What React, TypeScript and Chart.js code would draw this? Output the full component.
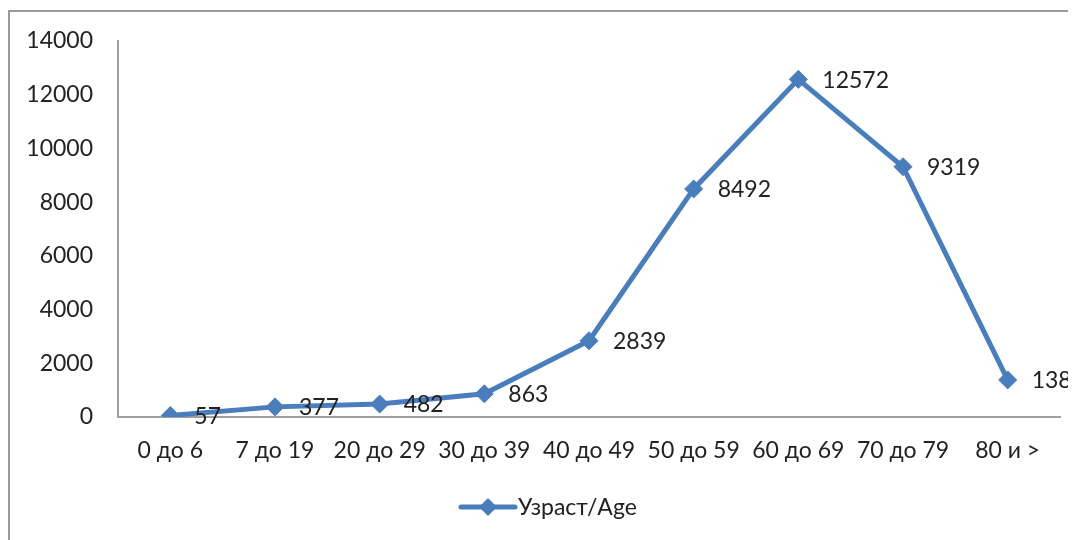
import React, { useEffect, useRef } from "react";
import { Chart, registerables } from "chart.js";

Chart.register(...registerables);

const categories: string[] = ["0 до 6", "7 до 19", "20 до 29", "30 до 39", "40 до 49", "50 до 59", "60 до 69", "70 до 79", "80 и >"];
const values: number[] = [57, 377, 482, 863, 2839, 8492, 12572, 9319, 1381];
const seriesLabel = "Узраст/Age";
const yMin = 0;
const yMax = 14000;
const yStep = 2000;

const FONT = "Lato, 'Open Sans', sans-serif";
const FSIZE = 23;
const BLUE = "#4a7dbb";
const TEXT = "#222222";

const framePlugin = {
  id: "frame",
  beforeDraw(chart: any) {
    const ctx = chart.ctx;
    ctx.save();
    ctx.fillStyle = "#ffffff";
    ctx.fillRect(0, 0, chart.width, chart.height);
    ctx.strokeStyle = "#9a9a9a";
    ctx.lineWidth = 2;
    ctx.beginPath();
    ctx.moveTo(1, chart.height + 5);
    ctx.lineTo(1, 3);
    ctx.lineTo(chart.width + 5, 3);
    ctx.stroke();
    ctx.restore();
  },
};

const labelsPlugin = {
  id: "valueLabels",
  afterDatasetsDraw(chart: any) {
    const ctx = chart.ctx;
    const meta = chart.getDatasetMeta(0);
    ctx.save();
    ctx.font = `${FSIZE}px ${FONT}`;
    ctx.fillStyle = TEXT;
    ctx.textAlign = "left";
    ctx.textBaseline = "middle";
    meta.data.forEach((pt: any, i: number) => {
      ctx.fillText(String(chart.data.datasets[0].data[i]), pt.x + 24, pt.y + 1);
    });
    ctx.restore();
  },
};

const legendPlugin = {
  id: "customLegend",
  afterDraw(chart: any) {
    const ctx = chart.ctx;
    const cy = 499;
    const x0 = 453;
    const x1 = 507;
    const cx = (x0 + x1) / 2;
    ctx.save();
    ctx.strokeStyle = BLUE;
    ctx.lineWidth = 5;
    ctx.lineCap = "round";
    ctx.beginPath();
    ctx.moveTo(x0, cy);
    ctx.lineTo(x1, cy);
    ctx.stroke();
    ctx.fillStyle = BLUE;
    ctx.beginPath();
    const r = 9;
    ctx.moveTo(cx, cy - r);
    ctx.lineTo(cx + r, cy);
    ctx.lineTo(cx, cy + r);
    ctx.lineTo(cx - r, cy);
    ctx.closePath();
    ctx.fill();
    ctx.font = `${FSIZE}px ${FONT}`;
    ctx.fillStyle = TEXT;
    ctx.textAlign = "left";
    ctx.textBaseline = "middle";
    ctx.fillText(seriesLabel, x1 + 3, cy + 1);
    ctx.restore();
  },
};

export default function App() {
  const ref = useRef<HTMLCanvasElement | null>(null);

  useEffect(() => {
    if (!ref.current) return;
    const chart = new Chart(ref.current, {
      type: "line",
      data: {
        labels: categories,
        datasets: [
          {
            label: seriesLabel,
            data: values,
            borderColor: BLUE,
            backgroundColor: BLUE,
            borderWidth: 5,
            pointStyle: "rectRot",
            pointRadius: 9,
            pointBorderWidth: 1,
            pointBackgroundColor: BLUE,
            pointBorderColor: BLUE,
            tension: 0,
          },
        ],
      },
      options: {
        animation: false,
        responsive: false,
        maintainAspectRatio: false,
        layout: { padding: { left: 0, right: 16, top: 33, bottom: 0 } },
        plugins: {
          legend: { display: false },
          tooltip: { enabled: false },
        },
        scales: {
          x: {
            offset: true,
            grid: { display: true, color: "rgba(0,0,0,0)", drawTicks: false },
            border: { display: true, color: "#a0a0a0", width: 2 },
            ticks: { color: TEXT, font: { family: FONT, size: FSIZE }, padding: 20, maxRotation: 0, autoSkip: false },
            afterFit(scale: any) {
              scale.height = 123;
            },
          },
          y: {
            min: yMin,
            max: yMax,
            grid: { display: true, color: "rgba(0,0,0,0)", drawTicks: false },
            border: { display: true, color: "#a0a0a0", width: 2 },
            ticks: {
              stepSize: yStep,
              color: TEXT,
              font: { family: FONT, size: FSIZE },
              padding: 25,
              callback: (v: any) => String(v),
            },
            afterFit(scale: any) {
              scale.width = 110;
              scale.paddingTop = 0;
              scale.paddingBottom = 0;
            },
          },
        },
      },
      plugins: [framePlugin, labelsPlugin, legendPlugin],
    });
    return () => chart.destroy();
  }, []);

  return (
    <div style={{ width: 1068, height: 532 }}>
      <canvas ref={ref} width={1068} height={532} style={{ display: "block", width: 1068, height: 532 }} />
    </div>
  );
}
